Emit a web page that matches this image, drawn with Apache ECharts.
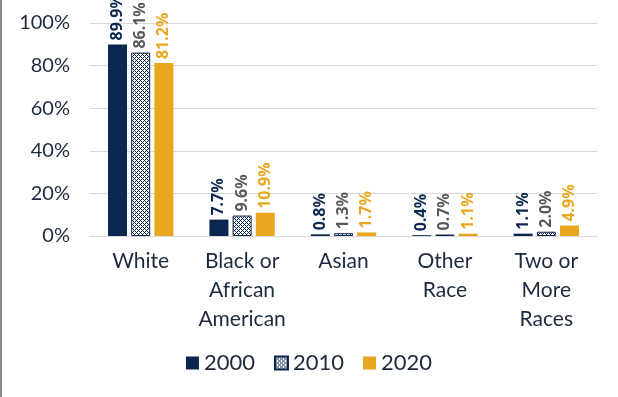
<!DOCTYPE html>
<html>
<head>
<meta charset="utf-8">
<script src="https://cdn.jsdelivr.net/npm/echarts@6/dist/echarts.min.js"></script>
<style>
  html, body { margin: 0; padding: 0; background: #fff; }
  #main { width: 618px; height: 397px; }
</style>
</head>
<body>
<div id="main"></div>
<script>
var categories = ['White', 'Black or\nAfrican\nAmerican', 'Asian', 'Other\nRace', 'Two or\nMore\nRaces'];
var y2000 = [89.9, 7.7, 0.8, 0.4, 1.1];
var y2010 = [86.1, 9.6, 1.3, 0.7, 2.0];
var y2020 = [81.2, 10.9, 1.7, 1.1, 4.9];
var yTicks = [0, 20, 40, 60, 80, 100];

var navy = '#0b2650';
var gold = '#e9a71f';
var font = 'Lato';

// crosshatch fill for 2010
var pat = document.createElement('canvas');
pat.width = 4; pat.height = 4;
var ctx = pat.getContext('2d');
ctx.fillStyle = '#ffffff';
ctx.fillRect(0, 0, 4, 4);
ctx.fillStyle = navy;
ctx.fillRect(0, 0, 1, 1);
ctx.fillRect(2, 2, 1, 1);
ctx.fillRect(1, 1, 1, 1);
ctx.fillRect(3, 1, 1, 1);
ctx.fillRect(1, 3, 1, 1);
ctx.fillRect(3, 3, 1, 1);

function lbl(color) {
    return {
        show: true,
        position: 'top',
        rotate: 90,
        align: 'left',
        verticalAlign: 'middle',
        distance: 4,
        color: color,
        fontFamily: 'Noto Sans',
        fontWeight: 'bold',
        fontSize: 16,
        formatter: function (p) { return p.value.toFixed(1) + '%'; }
    };
}

var option = {
    animation: false,
    grid: { left: 90, right: 21, top: 23, bottom: 161 },
    legend: {
        bottom: 18,
        left: 'center',
        icon: 'rect',
        itemWidth: 13,
        itemHeight: 13,
        itemGap: 19,
        textStyle: { fontFamily: font, fontSize: 22, color: '#1c2a3e' },
        data: ['2000', '2010', '2020']
    },
    xAxis: {
        type: 'category',
        data: categories,
        axisLine: { lineStyle: { color: '#d9d9d9', width: 1 } },
        axisTick: { show: false },
        axisLabel: {
            fontFamily: font, fontSize: 21, lineHeight: 29,
            color: '#1c2a3e', margin: 11, interval: 0
        }
    },
    yAxis: {
        type: 'value',
        min: yTicks[0],
        max: yTicks[yTicks.length - 1],
        interval: 20,
        axisLabel: {
            fontFamily: font, fontSize: 20, color: '#1c2a3e', margin: 20,
            formatter: '{value}%'
        },
        splitLine: { lineStyle: { color: '#d9d9d9', width: 1 } }
    },
    series: [
        {
            name: '2000', type: 'bar', data: y2000,
            barWidth: 19, barGap: '22%',
            itemStyle: { color: navy },
            label: lbl(navy)
        },
        {
            name: '2010', type: 'bar', data: y2010,
            barWidth: 19, barGap: '22%',
            itemStyle: { color: { image: pat, repeat: 'repeat' }, borderColor: navy, borderWidth: 1 },
            label: lbl('#595959')
        },
        {
            name: '2020', type: 'bar', data: y2020,
            barWidth: 19, barGap: '22%',
            itemStyle: { color: gold },
            label: lbl(gold)
        }
    ],
    graphic: [{
        type: 'rect', left: 0, top: 0,
        shape: { width: 2, height: 397 },
        style: { fill: '#8c8c8c' }
    }]
};

echarts.init(document.getElementById('main')).setOption(option);
</script>
</body>
</html>
